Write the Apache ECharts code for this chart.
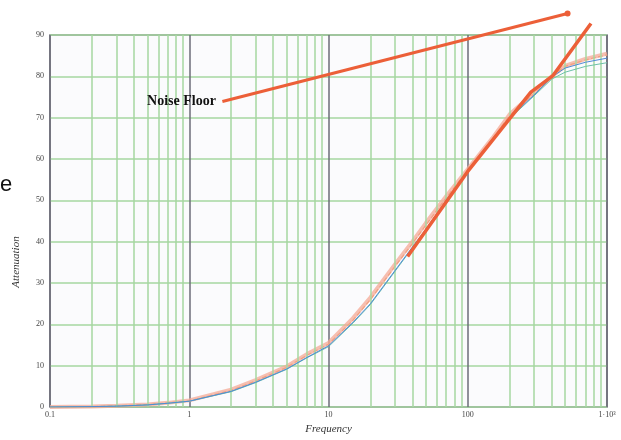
<!DOCTYPE html>
<html><head><meta charset="utf-8">
<script src="https://cdn.jsdelivr.net/npm/echarts@6/dist/echarts.min.js"></script>
<style>html,body{margin:0;padding:0;background:#fff}#c{width:621px;height:440px}</style>
</head><body><div id="c"></div>
<script>
// ---- data ----
const freq   = [0.1,0.2,0.3,0.5,0.7,1,2,3,5,7,10,15,20,30,40,50,70,100,150,200,300,400,500,700,1000];
const blue   = [0,0.1,0.2,0.5,0.9,1.4,3.8,6.0,9.2,12.0,14.8,20.5,25.0,33.0,38.7,43.0,50.0,57.0,64.5,70.0,75.5,79.8,82.0,83.4,84.4];
const teal   = [0,0.1,0.2,0.5,0.9,1.4,3.7,5.9,9.1,11.9,14.6,20.3,24.8,32.8,38.5,42.8,49.8,56.8,64.2,69.8,75.3,79.3,81.0,82.4,83.3];
const pink   = [0,0.15,0.3,0.6,1.0,1.6,4.2,6.5,9.8,12.8,15.5,21.5,26.5,34.5,40.0,44.5,51.0,57.5,65.0,70.8,76.0,80.0,82.5,84.2,85.5];
const orange = [0,0.1,0.3,0.6,1.0,1.5,4.0,6.3,9.6,12.5,15.2,21.0,26.0,34.0,39.5,44.0,50.6,57.3,64.8,70.5,75.8,80.0,82.4,84.0,85.2];
const fitX   = [37,100,193,284,407,767];
const fitY   = [36.4,57,69.1,76.2,80.1,92.8];
const noiseX = [1.73,521];
const noiseY = [73.9,95.2];
const decades = [0.1,1,10,100,1000];
const yTicks = [0,10,20,30,40,50,60,70,80,90];
const xTickLabels = {0.1:'0.1',1:'1',10:'10',100:'100',1000:'1·10³'};

const zip = (xs, ys) => xs.map((x,i)=>[x, ys[i]]);
const serif = '"Liberation Serif","DejaVu Serif",serif';

// minor grid positions (2..9 within each decade)
const minor = [];
decades.slice(0,-1).forEach(d => { for (let k=2;k<=9;k++) minor.push(+(d*k).toPrecision(6)); });

const chart = echarts.init(document.getElementById('c'), null, {renderer:'canvas'});
chart.setOption({
  animation:false,
  backgroundColor:'#ffffff',
  grid:{left:50, top:35, right:14, bottom:25, show:true, backgroundColor:'#fbfbfd', borderColor:'#6c6c78', borderWidth:1.5},
  xAxis:{
    type:'log', logBase:10, min:0.1, max:1000,
    name:'Frequency', nameLocation:'middle', nameGap:17,
    nameTextStyle:{fontFamily:serif, fontStyle:'italic', fontSize:11, color:'#333'},
    axisLine:{show:false}, axisTick:{show:false},
    axisLabel:{fontFamily:serif, fontSize:8, color:'#444', margin:4,
      formatter:v=>xTickLabels[+v.toPrecision(6)]||''},
    splitLine:{show:true, lineStyle:{color:'#6c6c78', width:1.5}}
  },
  yAxis:{
    type:'value', min:0, max:90, interval:10,
    axisLine:{show:false}, axisTick:{show:false},
    axisLabel:{fontFamily:serif, fontSize:8, color:'#444', margin:6},
    splitLine:{show:true, lineStyle:{color:'#a6d7a0', width:1.5}}
  },
  graphic:[
    {type:'text', left:0, top:174, style:{text:'e', font:'22px "Liberation Sans",sans-serif', fill:'#111'}},
    {type:'text', x:16, y:262, rotation:Math.PI/2,
      style:{text:'Attenuation', font:'italic 11px '+serif, fill:'#333', align:'center', verticalAlign:'middle'}}
  ],
  series:[
    {type:'line', data:[], markLine:{silent:true, symbol:'none', label:{show:false},
      lineStyle:{color:'#a6d7a0', width:1.5, type:'solid'},
      data:minor.map(v=>({xAxis:v}))}, z:1},
    {type:'line', data:zip(freq,pink), showSymbol:false, lineStyle:{color:'rgba(244,170,150,0.75)', width:4}, z:3},
    {type:'line', data:zip(freq,orange), showSymbol:false, lineStyle:{color:'#f2a080', width:1.2, type:'dashed'}, z:4},
    {type:'line', data:zip(freq,teal), showSymbol:false, lineStyle:{color:'#6cc0a8', width:1}, z:5},
    {type:'line', data:zip(freq,blue), showSymbol:false, lineStyle:{color:'#4f8ad6', width:1}, z:6},
    {type:'line', data:zip(fitX,fitY), showSymbol:false, clip:false, lineStyle:{color:'#ec5f38', width:3.5}, z:8},
    {type:'line', clip:false, z:8, showSymbol:true, showAllSymbol:true,
      data:[
        {value:[noiseX[0],noiseY[0]], symbol:'circle', symbolSize:1, itemStyle:{color:'rgba(0,0,0,0)', borderWidth:0},
          label:{show:true, position:'left', distance:6, formatter:'Noise Floor',
            fontFamily:serif, fontWeight:'bold', fontSize:14, color:'#111'}},
        {value:[noiseX[1],noiseY[1]], symbol:'circle', symbolSize:6, itemStyle:{color:'#ec5f38', borderWidth:0}}
      ],
      lineStyle:{color:'#ec5f38', width:3}}
  ]
});
</script></body></html>
